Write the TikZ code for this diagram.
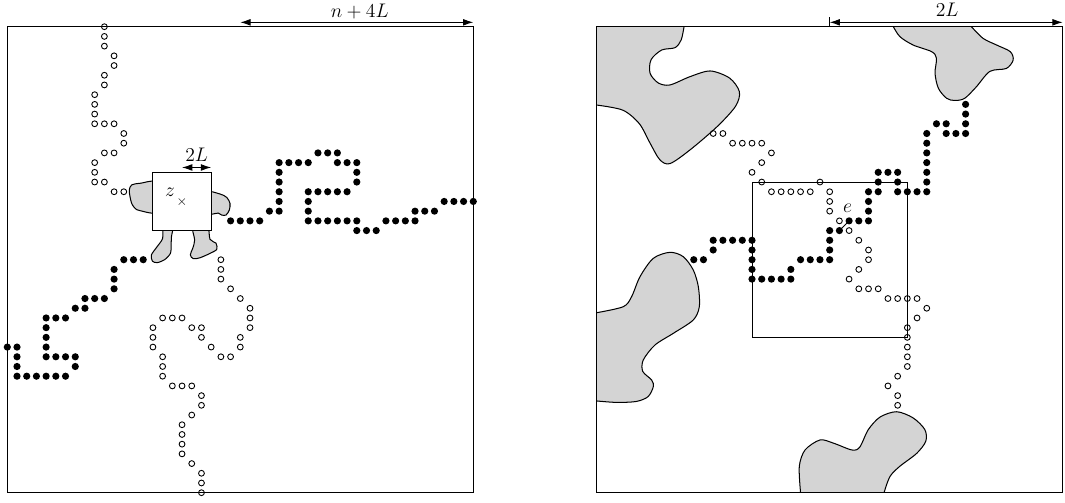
\documentclass[tikz,border=0pt]{standalone}
\usetikzlibrary{arrows.meta}
\begin{document}
\begin{tikzpicture}[x=0.25cm,y=-0.25cm,
  frame/.style={line width=0.7pt},
  blob/.style={fill=black!17,draw=black,line width=0.75pt},
  blobfill/.style={fill=black!17},
  blobline/.style={draw=black,line width=0.75pt},
  bdot/.style={fill=black},
  odot/.style={draw=black,line width=0.65pt},
  dim/.style={line width=0.7pt,{Latex[length=7.5pt,width=5pt]}-{Latex[length=7.5pt,width=5pt]}},
  lab/.style={font=\fontsize{14}{16}\selectfont,inner sep=0pt}]
\useasboundingbox (-0.752,-2.75) rectangle (108.95,48.96);

%================ LEFT PANEL ================
\begin{scope}
% blobs around the box
\path[blob] plot[smooth cycle] coordinates {(15.5,16.07) (13.67,16.13) (12.81,16.3) (12.57,16.82) (12.64,17.5) (12.81,18.2) (13.15,18.7) (13.67,18.95) (15.5,19.05)};
\path[blob] plot[smooth cycle] coordinates {(20.5,17.06) (21.9,17.23) (22.6,17.58) (22.94,18.2) (22.87,18.88) (22.53,19.4) (22.08,19.4) (21.74,19.2) (20.5,19.22)};
\path[blob] plot[smooth cycle] coordinates {(16.07,20.5) (16.0,21.8) (15.4,22.7) (14.85,23.5) (14.95,24.15) (15.45,24.3) (16.2,24.0) (16.8,23.35) (16.88,22.5) (16.9,21.7) (17.04,20.5)};
\path[blob] plot[smooth cycle] coordinates {(19.1,20.5) (19.3,21.97) (19.1,22.83) (18.85,23.5) (19.16,23.9) (19.85,23.8) (20.88,23.35) (21.57,22.94) (21.5,22.3) (20.88,21.9) (20.6,20.5)};
\node[draw,fill=white,frame,minimum width=1.5cm,minimum height=1.5cm,inner sep=0pt] (zbox) at (18,18) {};
\node[lab] (zlab) at (16.75,17.5) [anchor=base] {$z$};
\node[inner sep=0pt,font=\normalsize] (cross) at (18,18.05) {$\times$};
% frame
\draw[frame] (0,0) rectangle (48,48);
% 2L arrow
\coordinate (sa1) at (18,14.5);
\coordinate (sa2) at (21,14.5);
\draw[dim] (sa1) -- (sa2);
\node[lab,anchor=base] (slab) at (19.5,13.9) {$2L$};
% n+4L arrow
\coordinate (la1) at (24,-0.45);
\coordinate (la2) at (48,-0.45);
\draw[dim] (la1) -- (la2);
\node[lab,anchor=base] (llab) at (36.3,-0.97) {$n+4L$};
% open dots
\foreach \x/\y in {10/0,10/1,10/2,11/3,11/4,10/5,10/6,9/7,9/8,9/9,9/10,10/10,11/10,12/11,12/12,10/13,11/13,9/14,9/15,9/16,10/16,11/17,12/17,
  22/24,22/25,22/26,23/27,24/28,25/29,25/30,25/31,24/32,24/33,23/34,22/34,21/33,20/32,20/31,19/31,18/30,17/30,16/30,15/31,15/32,15/33,16/34,16/35,16/36,17/37,18/37,19/37,20/38,20/39,19/40,18/41,18/42,18/43,18/44,19/45,20/46,20/47,20/48}
  \draw[odot] (\x,\y) circle (0.3);
% black dots
\foreach \x/\y in {23/20,24/20,25/20,26/20,27/19,28/19,28/18,28/17,28/16,28/15,28/14,29/14,30/14,31/14,32/13,33/13,34/13,34/14,35/14,36/14,36/15,36/16,35/17,34/17,33/17,32/17,31/17,31/18,31/19,31/20,32/20,33/20,34/20,35/20,36/20,36/21,37/21,38/21,39/20,40/20,41/20,42/20,42/19,43/19,44/19,45/18,46/18,47/18,48/18,
  14/24,13/24,12/24,11/25,11/26,11/27,10/28,9/28,8/28,8/29,7/29,6/30,5/30,4/30,4/31,4/32,4/33,4/34,5/34,6/34,7/34,7/35,6/36,5/36,4/36,3/36,2/36,1/36,1/35,1/34,1/33,0/33}
  \fill[bdot] (\x,\y) circle (0.37);
\end{scope}

%================ RIGHT PANEL ================
\begin{scope}[shift={(60.71,0)}]
% top-left blob
\fill[blobfill] plot[smooth] coordinates {(9,0) (8.7,1.37) (8.07,2.16) (6.7,2.4) (5.6,3.4) (5.5,4.8) (6.35,5.8) (7.55,6.0) (9.6,5.15) (11.7,4.56) (13.7,5.3) (14.7,6.7) (14.3,8.2) (12.4,10.3) (9.6,12.7) (7.55,14.1) (6.5,13.7) (5.5,12.0) (4.4,10) (2.7,8.6) (0,8.07)} -- (0,0) -- cycle;
\draw[blobline] plot[smooth] coordinates {(9,0) (8.7,1.37) (8.07,2.16) (6.7,2.4) (5.6,3.4) (5.5,4.8) (6.35,5.8) (7.55,6.0) (9.6,5.15) (11.7,4.56) (13.7,5.3) (14.7,6.7) (14.3,8.2) (12.4,10.3) (9.6,12.7) (7.55,14.1) (6.5,13.7) (5.5,12.0) (4.4,10) (2.7,8.6) (0,8.07)};
% top-right blob
\fill[blobfill] plot[smooth] coordinates {(30.56,0) (31.24,1.03) (32.6,1.89) (34.5,2.57) (35.0,3.26) (34.85,4.8) (35.2,6.35) (36.05,7.38) (36.9,7.6) (37.9,7.38) (39.1,6.2) (40.5,4.6) (42.2,4.3) (42.9,3.43) (42.6,2.57) (41.2,1.89) (39.8,1.2) (38.6,0)} -- cycle;
\draw[blobline] plot[smooth] coordinates {(30.56,0) (31.24,1.03) (32.6,1.89) (34.5,2.57) (35.0,3.26) (34.85,4.8) (35.2,6.35) (36.05,7.38) (36.9,7.6) (37.9,7.38) (39.1,6.2) (40.5,4.6) (42.2,4.3) (42.9,3.43) (42.6,2.57) (41.2,1.89) (39.8,1.2) (38.6,0)};
% left blob
\fill[blobfill] plot[smooth] coordinates {(0,29.46) (2.74,28.84) (3.6,27.8) (4.46,25.75) (5.83,23.86) (7.55,23.24) (8.92,23.69) (9.95,25.06) (10.47,26.78) (10.57,28.84) (9.95,30.21) (7.9,31.58) (6.0,32.79) (4.8,34.33) (4.74,35.5) (5.67,36.4) (5.83,37.08) (5.3,38.1) (4.1,38.6) (2.06,38.7) (0,38.55)} -- cycle;
\draw[blobline] plot[smooth] coordinates {(0,29.46) (2.74,28.84) (3.6,27.8) (4.46,25.75) (5.83,23.86) (7.55,23.24) (8.92,23.69) (9.95,25.06) (10.47,26.78) (10.57,28.84) (9.95,30.21) (7.9,31.58) (6.0,32.79) (4.8,34.33) (4.74,35.5) (5.67,36.4) (5.83,37.08) (5.3,38.1) (4.1,38.6) (2.06,38.7) (0,38.55)};
% bottom blob
\fill[blobfill] plot[smooth] coordinates {(21.0,48) (20.87,45.3) (21.46,43.6) (23.0,42.57) (24.4,42.9) (26.3,43.6) (27.1,43.3) (27.98,41.5) (29.2,40.2) (30.9,39.66) (32.6,40.3) (33.8,41.5) (33.9,42.7) (32.96,43.95) (31.2,45.3) (30.2,46.35) (29.6,48)} -- cycle;
\draw[blobline] plot[smooth] coordinates {(21.0,48) (20.87,45.3) (21.46,43.6) (23.0,42.57) (24.4,42.9) (26.3,43.6) (27.1,43.3) (27.98,41.5) (29.2,40.2) (30.9,39.66) (32.6,40.3) (33.8,41.5) (33.9,42.7) (32.96,43.95) (31.2,45.3) (30.2,46.35) (29.6,48)};
% frame and inner box
\draw[frame] (0,0) rectangle (48,48);
\node[draw,frame,minimum width=4cm,minimum height=4cm,inner sep=0pt] (ibox) at (24,24) {};
% 2L arrow
\coordinate (ra1) at (24,-0.45);
\coordinate (ra2) at (48,-0.45);
\coordinate (rt0) at (24,0);
\coordinate (rt1) at (24,-0.95);
\draw[frame] (rt0) -- (rt1);
\draw[dim] (ra1) -- (ra2);
\node[lab,anchor=base] (rlab) at (36.1,-1.03) {$2L$};
% open dots
\foreach \x/\y in {12/11,13/11,14/12,15/12,16/12,17/12,18/13,17/14,16/15,17/16,18/17,19/17,20/17,21/17,22/17,23/16,24/17,24/18,24/19,25/20,26/21,27/22,28/23,28/24,27/25,26/26,27/27,28/27,29/27,30/28,31/28,32/28,33/28,34/29,33/30,32/31,32/32,32/33,32/34,32/35,31/36,30/37,31/38,31/39}
  \draw[odot] (\x,\y) circle (0.3);
% black dots
\foreach \x/\y in {38/8,38/9,38/10,38/11,37/11,36/11,36/10,35/10,34/11,34/12,34/13,34/14,34/15,34/16,34/17,33/17,32/17,31/17,31/16,31/15,30/15,29/15,29/16,29/17,28/17,28/18,28/19,28/20,27/20,26/20,25/21,24/21,24/22,24/23,24/24,23/24,22/24,21/24,20/25,20/26,19/26,18/26,17/26,16/26,16/25,16/24,16/23,16/22,15/22,14/22,13/22,12/22,12/23,11/24,10/24}
  \fill[bdot] (\x,\y) circle (0.37);
% edge e
\coordinate (e1) at (25,21);
\coordinate (e2) at (26,20);
\draw[line width=0.7pt] (e1) -- (e2);
\node[lab,anchor=base] (elab) at (25.85,19.15) {$e$};
\end{scope}
\end{tikzpicture}
\end{document}
